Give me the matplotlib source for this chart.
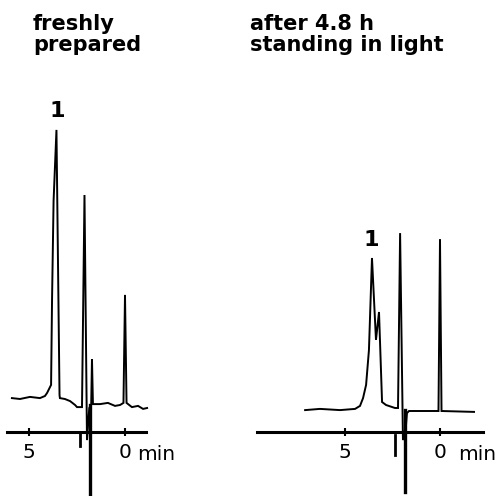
import matplotlib
matplotlib.use('Agg')
import matplotlib.pyplot as plt

# ---- data (time in min, detector signal in arbitrary units) ----
left_title = "freshly\nprepared"
right_title = "after 4.8 h\nstanding in light"

left_t = [5.89, 5.47, 4.95, 4.43, 4.17, 4.06, 3.85, 3.80, 3.72, 3.57, 3.41, 3.39, 3.13, 2.86,
          2.60, 2.50, 2.24, 2.11, 1.98, 1.86, 1.76, 1.72, 1.67, 1.30, 0.89, 0.52, 0.26, 0.08,
          0.0, -0.08, -0.36, -0.68, -0.94, -1.15]
left_s = [11.3, 11.0, 11.7, 11.3, 12.0, 13.0, 15.7, 44.0, 77.0, 100.7, 12.3, 11.3, 11.0, 10.3,
          9.0, 8.3, 8.3, 79.0, -2.7, 8.0, 9.3, 24.3, 9.3, 9.3, 9.7, 8.7, 9.0, 9.7,
          45.7, 9.7, 8.3, 8.7, 7.7, 8.0]

right_t = [7.10, 6.32, 5.26, 4.47, 4.21, 4.05, 3.89, 3.74, 3.58, 3.37, 3.21, 3.05, 2.84, 2.37,
           2.21, 2.10, 1.95, 1.79, 1.74, 1.63, 0.08, 0.0, -0.08, -1.79]
right_s = [7.3, 7.7, 7.3, 7.7, 8.7, 11.3, 15.7, 27.3, 58.0, 30.7, 40.0, 10.0, 9.0, 8.0,
           8.0, 66.3, -2.7, 2.3, 6.3, 7.0, 7.0, 64.3, 7.0, 6.7]

# injection mark (time, top, bottom) and small event tick (time, top, bottom)
left_inject = (1.82, 9.0, -21.3)
right_inject = (1.84, 7.3, -20.0)
left_event = (2.35, -0.7, -4.7)
right_event = (2.37, -1.0, -7.7)

# peak labels (time, signal, text)
left_label = (3.54, 107.0, "1")
right_label = (3.63, 64.0, "1")

tick_vals = [5, 0]
tick_text = ["5", "0"]
left_unit = (-0.63, "min")
right_unit = (-0.95, "min")

W, H = 502, 496
fig = plt.figure(figsize=(W / 100, H / 100), dpi=100)

ylim = ((432 - 496) / 3, 432 / 3)


def make_axes(x0, x1, t0, t1):
    ax = fig.add_axes([x0 / W, 0, (x1 - x0) / W, 1])
    ax.set_xlim(t0, t1)
    ax.set_ylim(*ylim)
    for s in ['left', 'right', 'top']:
        ax.spines[s].set_visible(False)
    ax.spines['bottom'].set_position(('data', 0))
    ax.spines['bottom'].set_linewidth(2.2)
    ax.set_yticks([])
    ax.set_xticks(tick_vals)
    ax.set_xticklabels(tick_text, fontsize=14.5)
    ax.tick_params(axis='x', direction='inout', length=6, width=1.5, pad=5)
    ax.patch.set_visible(False)
    return ax


axl = make_axes(7, 146, (125 - 7) / 19.2, (125 - 146) / 19.2)
axr = make_axes(257, 483, (440 - 257) / 19.0, (440 - 483) / 19.0)

for ax, t, s, inj, ev, lab, unit in [
        (axl, left_t, left_s, left_inject, left_event, left_label, left_unit),
        (axr, right_t, right_s, right_inject, right_event, right_label, right_unit)]:
    ax.plot(t, s, color='black', lw=1.4, clip_on=False, solid_joinstyle='miter')
    ax.plot([inj[0], inj[0]], [inj[1], inj[2]], color='black', lw=2.4, clip_on=False)
    ax.plot([ev[0], ev[0]], [ev[1], ev[2]], color='black', lw=2.0, clip_on=False)
    ax.text(lab[0], lab[1], lab[2], fontsize=16, fontweight='bold', ha='center', va='center')
    ax.text(unit[0], -7.6, unit[1], fontsize=14.5, ha='left', va='center', clip_on=False)

fig.text(33 / W, 1 - 14 / H, left_title, fontsize=15, fontweight='bold', ha='left', va='top',
         linespacing=1.08)
fig.text(250 / W, 1 - 14 / H, right_title, fontsize=15, fontweight='bold', ha='left', va='top',
         linespacing=1.08)

fig.savefig('out.png', dpi=100, facecolor='white')
